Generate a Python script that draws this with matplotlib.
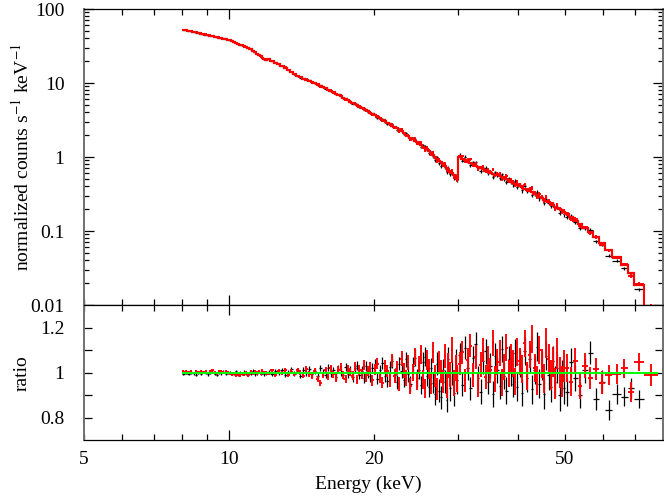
import numpy as np
import matplotlib
matplotlib.use('Agg')
import matplotlib.pyplot as plt
from matplotlib.ticker import FixedLocator, FixedFormatter, NullFormatter, LogLocator

plt.rcParams['font.family'] = ['Liberation Serif', 'DejaVu Serif']
plt.rcParams['mathtext.fontset'] = 'stix'

# ---------------- data ----------------
# energy bin edges (keV) of the black data group
edges_black = [8.0, 8.1, 8.2, 8.3, 8.4, 8.5, 8.6, 8.7, 8.8, 8.9, 9.0, 9.1, 9.2, 9.3, 9.4, 9.5, 9.6, 9.7, 9.8, 9.9,
               10.0, 10.1, 10.2, 10.3, 10.4, 10.5, 10.6, 10.7, 10.8, 10.9, 11.0, 11.1, 11.2, 11.3, 11.4, 11.5,
               11.6, 11.7, 11.8, 11.9,
               12.0, 12.2, 12.4, 12.6, 12.8, 13.0, 13.2, 13.4, 13.6, 13.8, 14.0, 14.2, 14.4, 14.6, 14.8,
               15.0, 15.2, 15.4, 15.6, 15.8, 16.0, 16.2, 16.4, 16.6, 16.8, 17.0, 17.2, 17.4, 17.6, 17.8,
               18.0, 18.2, 18.4, 18.6, 18.8, 19.0, 19.2, 19.4, 19.6, 19.8,
               20.0, 20.25, 20.5, 20.75, 21.0, 21.25, 21.5, 21.75, 22.0, 22.25, 22.5, 22.75, 23.0, 23.25,
               23.5, 23.75, 24.0, 24.25, 24.5, 24.75, 25.0, 25.25, 25.5, 25.75, 26.0, 26.25, 26.5, 26.75,
               27.0, 27.25, 27.5, 27.75, 28.0, 28.25, 28.5, 28.75, 29.0, 29.25, 29.5, 29.75,
               30.0, 30.4, 30.8, 31.2, 31.6, 32.0, 32.4, 32.8, 33.2, 33.6, 34.0, 34.4, 34.8, 35.2, 35.6,
               36.0, 36.4, 36.8, 37.2, 37.6, 38.0, 38.4, 38.8, 39.2, 39.6,
               40.0, 40.5, 41.0, 41.5, 42.0, 42.5, 43.0, 43.5, 44.0, 44.5, 45.0, 45.5, 46.0, 46.5, 47.0,
               47.5, 48.0, 48.5, 49.0, 49.5,
               50.0, 51.0, 52.0, 53.2, 54.4, 55.8, 57.2, 58.8, 60.6, 62.8, 65.4, 67.5, 69.7, 73.0]

# folded model (counts s^-1 keV^-1) in each bin
model_black = [52.5, 51.6, 50.7, 49.9, 49.0, 48.2, 47.4, 46.6, 45.9, 45.1,
               44.4, 43.7, 43.1, 42.4, 41.8, 41.1, 40.5, 39.8, 39.2, 38.6,
               37.9, 37.0, 36.0, 35.0, 34.0, 33.1, 32.3, 31.4, 30.6, 29.8,
               29.1, 28.4, 27.4, 26.2, 25.0, 23.9, 22.9, 21.9, 21.0, 20.5,
               21.0, 19.9, 18.9, 17.9, 17.0, 16.05, 15.0, 14.1, 13.2, 12.4,
               11.9, 11.5, 11.06, 10.66, 10.28, 9.92, 9.57, 9.20, 8.81, 8.45,
               8.11, 7.78, 7.47, 7.18, 6.90, 6.62, 6.35, 6.09, 5.85, 5.62,
               5.40, 5.20, 5.00, 4.81, 4.63, 4.46, 4.28, 4.12, 3.96, 3.81,
               3.65, 3.48, 3.32, 3.17, 3.03, 2.90, 2.77, 2.65, 2.54, 2.43,
               2.33, 2.22, 2.11, 2.01, 1.92, 1.83, 1.74, 1.66, 1.59, 1.52,
               1.45, 1.385, 1.325, 1.27, 1.203, 1.132, 1.066, 1.005, 0.947, 0.893,
               0.843, 0.796, 0.752, 0.711, 0.671, 0.633, 0.599, 0.566, 0.535, 0.506,
               0.987, 0.944, 0.903, 0.864, 0.828, 0.793, 0.760, 0.729, 0.700, 0.678,
               0.657, 0.636, 0.617, 0.598, 0.580, 0.563, 0.546, 0.530, 0.515, 0.497,
               0.481, 0.465, 0.449, 0.435, 0.421,
               0.406, 0.390, 0.375, 0.360, 0.3465, 0.332, 0.317, 0.303, 0.290, 0.277,
               0.265, 0.254, 0.243, 0.233, 0.2235, 0.214, 0.206, 0.1975, 0.190, 0.182,
               0.169, 0.153, 0.1376, 0.1226, 0.1086, 0.0957, 0.0817, 0.0683, 0.0556, 0.0439,
               0.035, 0.027, 0.0186]

# data / model ratio
ratio_black = [0.995, 0.998, 0.993, 1.000, 0.996, 0.991, 0.999, 0.994, 1.002, 0.997,
               0.992, 0.998, 1.003, 0.995, 0.990, 0.999, 0.996, 1.004, 0.993, 0.998,
               1.001, 0.994, 0.997, 1.005, 0.992, 0.999, 0.995, 1.003, 0.996, 0.990,
               1.002, 0.997, 1.006, 0.993, 0.999, 1.004, 0.995, 1.001, 0.992, 0.998,
               1.004, 0.993, 1.008, 0.997, 1.011, 0.990, 1.003, 1.014, 0.995, 1.007,
               0.986, 1.012, 0.998, 1.016, 0.992, 1.005, 0.984, 1.019, 1.001, 0.989,
               1.022, 0.996, 1.010, 0.981, 1.015, 1.003, 0.987, 1.025, 0.994, 1.008,
               0.978, 1.018, 1.030, 0.991, 1.006, 0.975, 1.028, 0.999, 0.984, 1.020,
               1.035, 0.972, 1.010, 1.042, 0.985, 0.962, 1.025, 1.050, 0.990, 0.958,
               1.040, 1.008, 0.968, 1.058, 0.995, 0.950, 1.030, 1.065, 0.975, 1.012,
               0.945, 1.048, 1.070, 0.985, 0.935, 1.020, 0.955, 0.905, 1.040, 0.920,
               0.890, 1.010, 0.960, 0.880, 1.060, 0.930, 1.000, 0.910, 1.045, 0.965,
               1.080, 0.945, 1.110, 1.020, 0.930, 1.065, 1.125, 0.975, 0.915, 1.050,
               1.095, 0.960, 1.030, 0.905, 1.075, 1.010, 0.940, 1.105, 0.985, 0.920,
               1.060, 1.000, 0.950, 1.085, 0.935,
               1.040, 0.910, 1.095, 0.975, 1.060, 0.925, 1.010, 1.115, 0.950, 1.030,
               0.905, 1.075, 0.990, 0.935, 1.050, 0.960, 1.020, 0.900, 0.985, 0.930,
               0.915, 1.045, 0.975, 0.900, 1.010, 1.088, 0.883, 0.960, 0.834, 0.904,
               0.893, 0.930, 0.883]

# 1-sigma error on the ratio
rerr_black = [0.005, 0.005, 0.005, 0.005, 0.005, 0.005, 0.005, 0.005, 0.005, 0.005,
              0.006, 0.006, 0.006, 0.006, 0.006, 0.006, 0.006, 0.006, 0.006, 0.006,
              0.006, 0.006, 0.007, 0.007, 0.007, 0.007, 0.007, 0.007, 0.007, 0.007,
              0.007, 0.008, 0.008, 0.008, 0.008, 0.008, 0.008, 0.008, 0.008, 0.008,
              0.008, 0.008, 0.009, 0.009, 0.009, 0.009, 0.010, 0.010, 0.010, 0.011,
              0.011, 0.011, 0.012, 0.012, 0.012, 0.013, 0.013, 0.013, 0.014, 0.014,
              0.015, 0.015, 0.016, 0.016, 0.017, 0.017, 0.018, 0.018, 0.019, 0.019,
              0.020, 0.020, 0.021, 0.021, 0.022, 0.022, 0.023, 0.023, 0.024, 0.024,
              0.024, 0.025, 0.025, 0.026, 0.027, 0.027, 0.028, 0.029, 0.030, 0.030,
              0.031, 0.032, 0.033, 0.034, 0.035, 0.036, 0.037, 0.038, 0.039, 0.040,
              0.041, 0.042, 0.043, 0.044, 0.045, 0.046, 0.047, 0.048, 0.049, 0.050,
              0.051, 0.052, 0.053, 0.054, 0.055, 0.056, 0.057, 0.058, 0.059, 0.060,
              0.050, 0.051, 0.051, 0.052, 0.052, 0.053, 0.053, 0.054, 0.054, 0.055,
              0.055, 0.056, 0.056, 0.057, 0.057, 0.058, 0.058, 0.059, 0.059, 0.060,
              0.060, 0.061, 0.061, 0.062, 0.062,
              0.060, 0.061, 0.061, 0.062, 0.062, 0.063, 0.063, 0.064, 0.064, 0.065,
              0.065, 0.066, 0.066, 0.067, 0.067, 0.068, 0.068, 0.069, 0.069, 0.070,
              0.062, 0.064, 0.058, 0.058, 0.055, 0.050, 0.050, 0.050, 0.045, 0.045,
              0.042, 0.045, 0.040]

# red data group: same grid plus one extra bin at the top end
edges_red = edges_black + [78.0]
model_red = model_black + [0.0098]

ratio_red = [1.004, 1.007, 1.002, 1.005, 0.999, 1.006, 1.003, 1.008, 1.001, 1.004,
             0.998, 1.005, 1.009, 1.002, 0.997, 1.006, 1.003, 0.999, 1.004, 1.001,
             0.994, 0.990, 0.996, 0.988, 0.993, 0.986, 0.995, 0.991, 0.998, 0.989,
             0.994, 1.002, 0.996, 1.005, 0.999, 1.003, 0.995, 1.006, 1.000, 0.997,
             0.995, 1.009, 0.990, 1.006, 0.997, 1.013, 0.988, 1.004, 0.993, 1.011,
             1.000, 0.985, 1.015, 0.994, 0.982, 1.008, 0.970, 0.955, 0.990, 1.012,
             0.980, 1.018, 0.992, 0.976, 1.010, 1.024, 0.988, 0.972, 1.016, 1.003,
             0.985, 1.027, 0.968, 1.012, 0.995, 1.032, 0.979, 1.006, 1.022, 0.965,
             1.015, 1.040, 0.978, 0.955, 1.030, 1.005, 0.965, 1.052, 0.985, 1.020,
             0.948, 1.062, 1.010, 0.975, 1.045, 0.940, 1.000, 1.070, 0.960, 1.035,
             1.080, 0.970, 0.930, 1.055, 1.015, 0.950, 1.090, 0.985, 0.925, 1.045,
             1.005, 0.960, 1.075, 0.940, 1.030, 0.990, 1.100, 0.955, 1.020, 0.975,
             1.040, 1.090, 0.965, 1.055, 1.120, 0.990, 1.070, 0.945, 1.035, 1.100,
             0.980, 1.060, 1.010, 1.130, 0.970, 1.045, 1.085, 0.955, 1.025, 1.110,
             0.995, 1.065, 1.040, 0.960, 1.090,
             1.050, 1.015, 1.130, 0.985, 1.080, 1.150, 1.020, 0.965, 1.100, 1.040,
             0.975, 1.130, 1.060, 0.990, 1.045, 0.950, 1.085, 1.000, 0.960, 1.030,
             1.020, 0.960, 1.050, 0.940, 1.030, 0.975, 1.015, 0.955, 0.990, 0.994,
             1.018, 0.913, 1.046, 0.990]

rerr_red = rerr_black + [0.050]

ratio_model_level = 1.0

x_major = [10]
x_major_labels = ['10']
x_minor = [5, 6, 7, 8, 9, 20, 30, 40, 50, 60, 70]
x_minor_labels = ['5', '', '', '', '', '20', '', '', '50', '', '']
y_top_ticks = [0.01, 0.1, 1, 10, 100]
y_top_labels = ['0.01', '0.1', '1', '10', '100']
y_rat_ticks = [0.8, 0.9, 1.0, 1.1, 1.2]
y_rat_labels = ['0.8', '', '1', '', '1.2']

# ---------------- figure ----------------
fig = plt.figure(figsize=(6.64, 4.96), dpi=100)
L, W = 84 / 664, 579 / 664
ax1 = fig.add_axes([L, 1 - 305 / 496, W, 296 / 496])
ax2 = fig.add_axes([L, 1 - 440 / 496, W, 135 / 496])


def draw(edges, model, ratio, rerr, color, z, elw):
    e = np.asarray(edges, float)
    lo, hi = e[:-1], e[1:]
    cen = np.sqrt(lo * hi)
    m = np.asarray(model, float)
    r = np.asarray(ratio, float)
    s = np.asarray(rerr, float)
    xerr = [cen - lo, hi - cen]
    ax1.errorbar(cen, m * r, xerr=xerr, yerr=m * s, fmt='none', ecolor=color,
                 elinewidth=elw, capsize=0, zorder=z)
    ax1.stairs(m, e, color=color, lw=1.5, baseline=None, zorder=z + 0.1)
    ax2.errorbar(cen, r, xerr=xerr, yerr=s, fmt='none', ecolor=color,
                 elinewidth=elw, capsize=0, zorder=z)


draw(edges_black, model_black, ratio_black, rerr_black, 'black', 2, 0.9)
draw(edges_red, model_red, ratio_red, rerr_red, '#ff0000', 3, 1.35)
ax2.hlines(ratio_model_level, edges_red[0], edges_red[-1], color='#00ff00', lw=1.4, zorder=5)

for ax in (ax1, ax2):
    ax.set_xscale('log')
    ax.set_xlim(5, 80)
    ax.xaxis.set_major_locator(FixedLocator(x_major))
    ax.xaxis.set_minor_locator(FixedLocator(x_minor))
    ax.tick_params(which='both', direction='in', top=True, right=True,
                   labelsize=14, width=0.9, color='black')
    ax.tick_params(axis='x', which='major', length=7.5)
    ax.tick_params(axis='x', which='minor', length=4)
    ax.tick_params(axis='y', which='both', pad=14)
    ax.tick_params(axis='x', which='both', pad=8)
    for name, sp in ax.spines.items():
        sp.set_linewidth(0.9)
    for name in ('left', 'right'):
        ax.spines[name].set_color('#707070')
        ax.spines[name].set_linewidth(1.4)

ax1.xaxis.set_major_formatter(NullFormatter())
ax1.xaxis.set_minor_formatter(NullFormatter())
ax2.xaxis.set_major_formatter(FixedFormatter(x_major_labels))
ax2.xaxis.set_minor_formatter(FixedFormatter(x_minor_labels))

ax1.set_yscale('log')
ax1.set_ylim(0.01, 100)
ax1.yaxis.set_major_locator(FixedLocator(y_top_ticks))
ax1.yaxis.set_major_formatter(FixedFormatter(y_top_labels))
ax1.yaxis.set_minor_locator(LogLocator(base=10, subs=range(2, 10)))
ax1.yaxis.set_minor_formatter(NullFormatter())
ax1.tick_params(axis='y', which='major', length=7)
ax1.tick_params(axis='y', which='minor', length=3.6)

ax2.set_ylim(0.7, 1.3)
ax2.yaxis.set_major_locator(FixedLocator(y_rat_ticks))
ax2.yaxis.set_major_formatter(FixedFormatter(y_rat_labels))
ax2.tick_params(axis='y', which='major', length=6)

fig.text(22 / 664, 1 - 157 / 496, r'normalized counts s$^{-1}$ keV$^{-1}$',
         rotation=90, ha='center', va='center', fontsize=14)
fig.text(22 / 664, 1 - 373 / 496, 'ratio', rotation=90, ha='center', va='center', fontsize=14)
fig.text(368 / 664, 1 - 484 / 496, 'Energy (keV)', ha='center', va='center', fontsize=14)

fig.savefig('out.png', dpi=100)
